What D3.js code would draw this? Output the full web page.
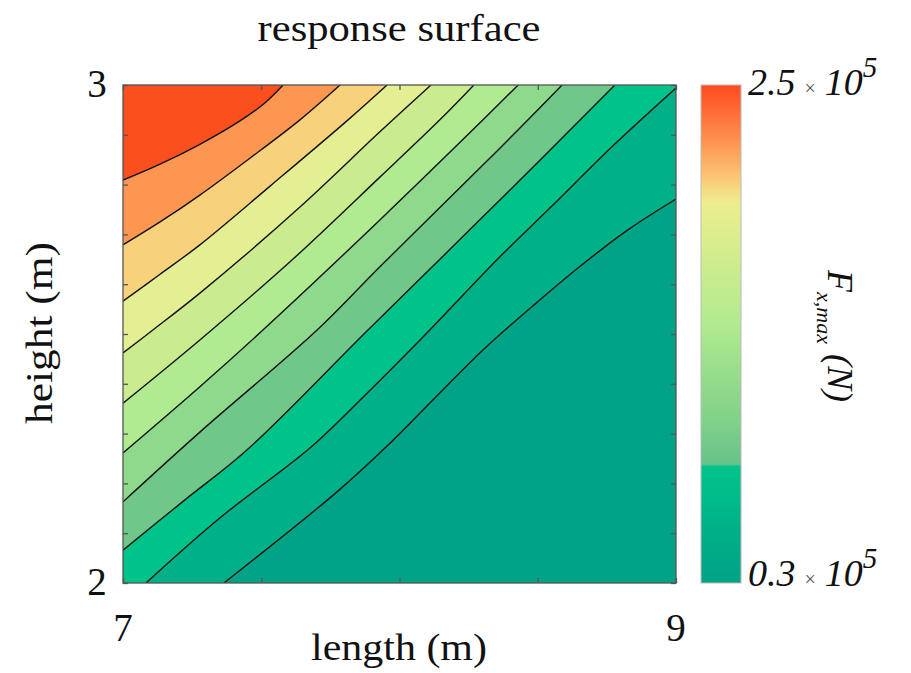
<!DOCTYPE html>
<html><head><meta charset="utf-8">
<script src="https://cdn.jsdelivr.net/npm/d3@7"></script>
<style>
html,body{margin:0;padding:0;background:#fff;}
svg text{font-family:"Liberation Serif","Times New Roman",serif;fill:#111;}
</style></head>
<body>
<svg id="chart" width="911" height="673"></svg>
<script>
// ---- data ----
const xTickValues = [7, 7.5, 8, 8.5, 9];
const xTickLabels = ["7", "", "", "", "9"];
const yTickValues = [2, 2.1, 2.2, 2.3, 2.4, 2.5, 2.6, 2.7, 2.8, 2.9, 3];
const yTickLabels = ["2", "", "", "", "", "", "", "", "", "", "3"];

// contour levels (x 10^5 N), from the highest down
const contourLevels = [2.3, 2.1, 1.9, 1.7, 1.5, 1.3, 1.1, 0.9, 0.7, 0.5];
// band fill colours, lowest band first
const bandColors = ["#00a386", "#00b088", "#00c389", "#6fc88a", "#8fd98c",
                    "#b0eb91", "#caeb8e", "#e4ef93", "#f8d27b", "#fd9650", "#fc4f1e"];
// each contour line as [length (m), height (m)] points
const line23 = [[7.000,2.809],[7.134,2.841],[7.278,2.881],[7.423,2.928],[7.513,2.964],[7.579,3.000]];
const line21 = [[7.000,2.679],[7.134,2.725],[7.278,2.779],[7.459,2.853],[7.640,2.930],[7.785,3.000]];
const line19 = [[7.000,2.566],[7.134,2.620],[7.278,2.679],[7.532,2.797],[7.814,2.930],[7.955,3.000]];
const line17 = [[7.000,2.462],[7.108,2.508],[7.278,2.582],[7.640,2.755],[7.929,2.906],[8.114,3.000]];
const line15 = [[7.000,2.361],[7.278,2.488],[7.604,2.645],[7.929,2.815],[8.146,2.930],[8.269,3.000]];
const line13 = [[7.000,2.261],[7.278,2.394],[7.506,2.508],[7.929,2.729],[8.302,2.930],[8.429,3.000]];
const line11 = [[7.000,2.163],[7.278,2.303],[7.702,2.508],[7.929,2.635],[8.363,2.873],[8.588,3.000]];
const line09 = [[7.000,2.066],[7.224,2.167],[7.448,2.267],[7.886,2.508],[8.363,2.769],[8.779,3.000]];
const line07 = [[7.083,2.000],[7.351,2.131],[7.676,2.271],[7.857,2.367],[8.092,2.498],[8.363,2.655],[8.555,2.759],[8.772,2.878],[9.000,2.994]];
const line05 = [[7.365,2.000],[7.774,2.183],[7.955,2.275],[8.136,2.376],[8.302,2.468],[8.494,2.562],[8.660,2.639],[8.826,2.709],[9.000,2.771]];

// colour bar stops: value (x 10^5) and colour
const cbValues = [0.30, 0.50, 0.70, 0.815, 0.825, 1.00, 1.20, 1.45, 1.65, 1.80, 1.98, 2.10, 2.27, 2.50];
const cbColors = ["#00a386", "#00ad87", "#00bd89", "#00c38a", "#66c38a", "#7fd08a", "#94db8b",
                  "#b2eb90", "#c6ec8e", "#d8ed8e", "#eeee8e", "#fcc473", "#fe8c4d", "#ff4b1e"];
const cbTickValues = [0.3, 2.5];
const cbTickLabels = ["0.3", "2.5"];

// ---- drawing ----
const svg = d3.select("#chart");
const L = 123, T = 85, W = 553, H = 498;
const x = d3.scaleLinear().domain([7, 9]).range([L, L + W]);
const y = d3.scaleLinear().domain([2, 3]).range([T + H, T]);
const bandScale = d3.scaleThreshold()
  .domain(contourLevels.slice().reverse())
  .range(bandColors);

const contourLines = [line05, line07, line09, line11, line13, line15, line17, line19, line21, line23];
const lineLevels = contourLevels.slice().reverse();

svg.append("defs").append("clipPath").attr("id", "plotclip")
  .append("rect").attr("x", L).attr("y", T).attr("width", W).attr("height", H);

const plot = svg.append("g").attr("clip-path", "url(#plotclip)");
plot.append("rect").attr("x", L).attr("y", T).attr("width", W).attr("height", H)
  .attr("fill", bandScale(0.3));

const lineGen = d3.line().x(d => x(d[0])).y(d => y(d[1])).curve(d3.curveCatmullRom.alpha(0.5));

function regionPath(pts) {
  let p = lineGen(pts);
  const s = pts[0], e = pts[pts.length - 1];
  if (e[0] >= 9) p += "L" + x(9) + "," + y(3);
  p += "L" + x(7) + "," + y(3);
  if (s[1] <= 2) p += "L" + x(7) + "," + y(2);
  return p + "Z";
}

contourLines.forEach((pts, i) => {
  plot.append("path").attr("d", regionPath(pts))
    .attr("fill", bandScale(lineLevels[i] + 0.01)).attr("stroke", "none");
});
contourLines.forEach(pts => {
  plot.append("path").attr("d", lineGen(pts))
    .attr("fill", "none").attr("stroke", "#111").attr("stroke-width", 1.4);
});

// frame and ticks
const axisColor = "#555";
svg.append("rect").attr("x", L).attr("y", T).attr("width", W).attr("height", H)
  .attr("fill", "none").attr("stroke", axisColor).attr("stroke-width", 1.3);

const tickLen = 5;
const bottomAxis = d3.axisBottom(x).tickValues(xTickValues).tickSize(-tickLen).tickFormat("");
const topAxis = d3.axisTop(x).tickValues(xTickValues).tickSize(-tickLen).tickFormat("");
const leftAxis = d3.axisLeft(y).tickValues(yTickValues).tickSize(-tickLen).tickFormat("");
const rightAxis = d3.axisRight(y).tickValues(yTickValues).tickSize(-tickLen).tickFormat("");
[[bottomAxis, `translate(0,${T + H})`], [topAxis, `translate(0,${T})`],
 [leftAxis, `translate(${L},0)`], [rightAxis, `translate(${L + W},0)`]].forEach(([ax, tr]) => {
  const g = svg.append("g").attr("transform", tr).call(ax);
  g.select(".domain").remove();
  g.selectAll(".tick line").attr("stroke", axisColor).attr("stroke-width", 1.3);
});

// tick labels
svg.append("g").selectAll("text").data(xTickValues.map((v, i) => [v, xTickLabels[i]]).filter(d => d[1]))
  .join("text").attr("x", d => x(d[0])).attr("y", 641).attr("text-anchor", "middle")
  .attr("font-size", 39).text(d => d[1]);
svg.append("g").selectAll("text").data(yTickValues.map((v, i) => [v, yTickLabels[i]]).filter(d => d[1]))
  .join("text").attr("x", 97).attr("y", d => y(d[0]) + 12).attr("text-anchor", "middle")
  .attr("font-size", 39).text(d => d[1]);

// titles
svg.append("text").attr("x", 399).attr("y", 41).attr("text-anchor", "middle")
  .attr("font-size", 38).attr("textLength", 283).attr("lengthAdjust", "spacingAndGlyphs")
  .text("response surface");
svg.append("text").attr("x", 399).attr("y", 660).attr("text-anchor", "middle")
  .attr("font-size", 38).attr("textLength", 176).attr("lengthAdjust", "spacingAndGlyphs")
  .text("length (m)");
svg.append("text").attr("transform", "translate(52,333) rotate(-90)").attr("text-anchor", "middle")
  .attr("font-size", 38).attr("textLength", 182).attr("lengthAdjust", "spacingAndGlyphs")
  .text("height (m)");

// colour bar
const cbX = 701, cbW = 40;
const cbScale = d3.scaleLinear().domain([0.3, 2.5]).range([T + H, T]);
const grad = svg.select("defs").append("linearGradient").attr("id", "cbgrad")
  .attr("x1", 0).attr("y1", 1).attr("x2", 0).attr("y2", 0);
grad.selectAll("stop").data(cbValues.map((v, i) => [v, cbColors[i]])).join("stop")
  .attr("offset", d => ((d[0] - 0.3) / 2.2 * 100) + "%").attr("stop-color", d => d[1]);
svg.append("rect").attr("x", cbX).attr("y", cbScale(2.5)).attr("width", cbW)
  .attr("height", cbScale(0.3) - cbScale(2.5)).attr("fill", "url(#cbgrad)")
  .attr("stroke", "#bbb").attr("stroke-width", 1);

const cbLab = svg.append("g").selectAll("text").data(cbTickValues.map((v, i) => [v, cbTickLabels[i]]))
  .join("text").attr("x", 748).attr("y", d => cbScale(d[0]) + (d[0] > 1 ? 10 : 3))
  .attr("font-size", 38).attr("font-style", "italic");
cbLab.append("tspan").text(d => d[1]);
cbLab.append("tspan").attr("font-size", 20).attr("font-style", "normal").attr("fill", "#555").attr("dx", 9).text("×");
cbLab.append("tspan").attr("dx", 9).text("10");
cbLab.append("tspan").attr("font-size", 29).attr("dy", -18).text("5");

const cbt = svg.append("text").attr("transform", "translate(828,336) rotate(90)")
  .attr("text-anchor", "middle").attr("font-size", 36).attr("font-style", "italic");
cbt.append("tspan").text("F");
cbt.append("tspan").attr("font-size", 22).attr("dy", 11).text("x,max");
cbt.append("tspan").attr("dy", -11).attr("dx", 10).text("(N)");
</script>
</body></html>
